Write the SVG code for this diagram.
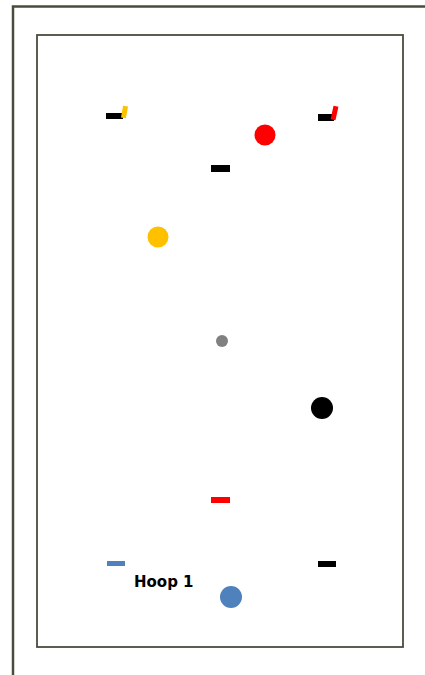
<svg xmlns="http://www.w3.org/2000/svg" width="425" height="675" viewBox="0 0 425 675">
<style>
.frame{fill:none;stroke:#4b4b3e}
.blk{fill:#000}
.red{fill:#ff0000}
.yel{fill:#ffc000}
.blu{fill:#4f81bd}
.lbl{font-family:"DejaVu Sans",Verdana,sans-serif;font-weight:bold;font-size:15px;fill:#000}
</style>
<rect x="0" y="0" width="425" height="675" fill="#fff"/>
<path class="frame" stroke-width="2.5" d="M13,676 V6.5 H426"/>
<rect class="frame" stroke-width="1.8" x="37" y="35" width="366" height="612"/>
<g id="cone-top-left"><rect class="blk" x="106" y="113" width="17" height="6"/><rect class="yel" x="122" y="106" width="5" height="12" transform="rotate(10 124.5 112)"/></g>
<g id="cone-top-right"><rect class="blk" x="318" y="114" width="16" height="7"/><rect class="red" x="332" y="106" width="5" height="14" transform="rotate(12 334.5 113)"/></g>
<g id="ball-red"><circle class="red" cx="265" cy="135" r="10.5"/></g>
<g id="cone-black-mid"><rect class="blk" x="211" y="165" width="19" height="7"/></g>
<g id="ball-yellow"><circle class="yel" cx="158" cy="237" r="10.5"/></g>
<g id="ball-gray"><circle fill="#808080" cx="222" cy="341" r="6"/></g>
<g id="ball-black"><circle class="blk" cx="322" cy="408" r="11"/></g>
<g id="cone-red"><rect class="red" x="211" y="497" width="19" height="6"/></g>
<g id="cone-blue"><rect class="blu" x="107" y="561" width="18" height="5"/></g>
<g id="cone-black-bottom"><rect class="blk" x="318" y="561" width="18" height="6"/></g>
<g id="hoop-label"><text class="lbl" x="134" y="587">Hoop 1</text></g>
<g id="ball-blue"><circle class="blu" cx="231" cy="597" r="11"/></g>
<g id="connectors"></g>
</svg>
